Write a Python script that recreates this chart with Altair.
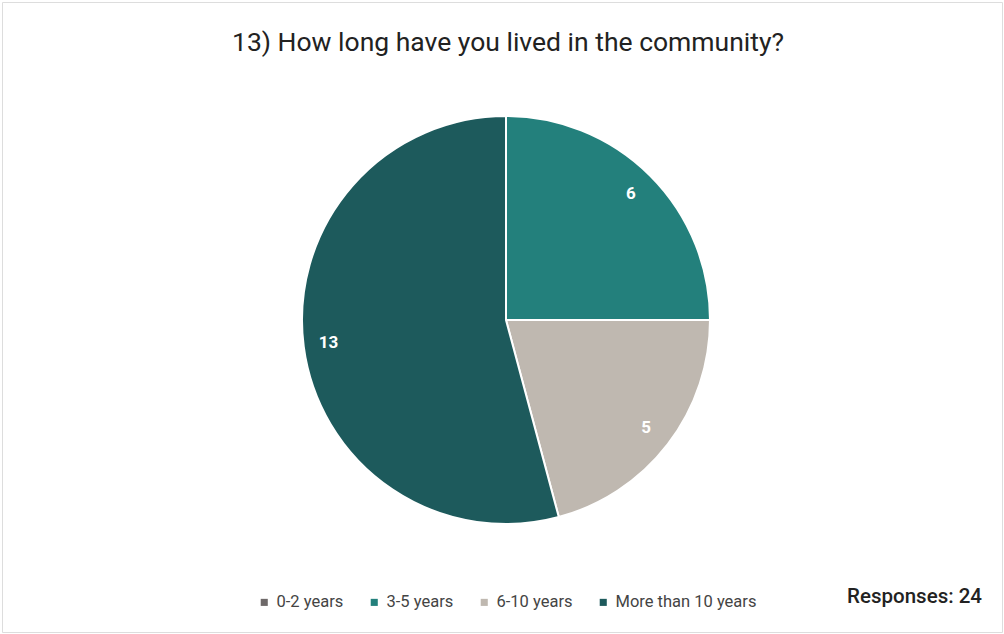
import altair as alt
import pandas as pd

categories = ["0-2 years", "3-5 years", "6-10 years", "More than 10 years"]
counts = [0, 6, 5, 13]
colors = ["#6e6969", "#23807c", "#bfb8b0", "#1d5a5c"]
order_idx = [0, 1, 2, 3]

df = pd.DataFrame({"category": categories, "count": counts, "order": order_idx})

FONT = "Roboto"

base = alt.Chart(df).encode(
    theta=alt.Theta("count:Q", stack=True),
    order=alt.Order("order:Q"),
)

pie = base.mark_arc(stroke="white", strokeWidth=2).encode(
    x=alt.value(504),
    y=alt.value(318),
    radius=alt.value(204),
    color=alt.Color(
        "category:N",
        scale=alt.Scale(domain=categories, range=colors),
        sort=categories,
        legend=alt.Legend(
            title=None,
            orient="none",
            direction="horizontal",
            legendX=254,
            legendY=592,
            symbolType="square",
            symbolSize=50,
            symbolStrokeWidth=0,
            labelFont=FONT,
            labelFontSize=16.5,
            labelColor="#444444",
            labelOffset=4,
            columnPadding=22,
        ),
    ),
)

labels = base.mark_text(
    font=FONT, fontSize=17, fontWeight="bold", color="white"
).encode(
    x=alt.value(503),
    y=alt.value(318),
    radius=alt.value(178),
    text=alt.Text("count:Q"),
).transform_filter(alt.datum.count > 0)

responses = alt.Chart(pd.DataFrame({"t": ["Responses: 24"]})).mark_text(
    font=FONT, fontSize=20.5, fontWeight=500, color="#222222", align="right", baseline="middle"
).encode(
    x=alt.value(980),
    y=alt.value(595),
    text="t:N",
)

chart = (
    alt.layer(pie, labels, responses)
    .properties(
        width=1000,
        height=630,
        padding={"left": 2, "top": 2, "right": 2, "bottom": 2},
        autosize=alt.AutoSizeParams(type="none"),
        title=alt.TitleParams(
            "13) How long have you lived in the community?",
            font=FONT,
            fontSize=26.5,
            fontWeight="normal",
            color="#222222",
            anchor="middle",
            offset=-54,
            dx=6,
        ),
    )
    .configure_view(stroke="#cfcfcf", strokeWidth=1.5)
    .configure(background="white")
)

chart.save("out.html", embed_options={"renderer": "svg", "actions": False})
